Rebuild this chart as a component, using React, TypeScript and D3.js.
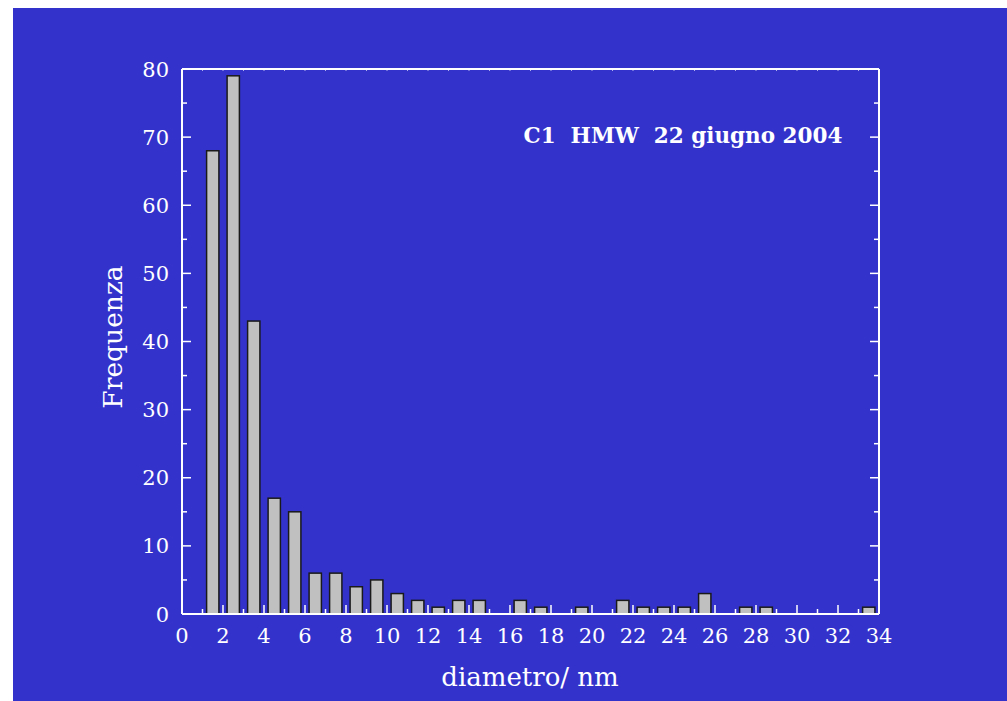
import React from "react";
import * as d3 from "d3";

const binCenters = [1.5, 2.5, 3.5, 4.5, 5.5, 6.5, 7.5, 8.5, 9.5, 10.5, 11.5, 12.5, 13.5, 14.5, 15.5, 16.5, 17.5, 18.5, 19.5, 20.5, 21.5, 22.5, 23.5, 24.5, 25.5, 26.5, 27.5, 28.5, 29.5, 30.5, 31.5, 32.5, 33.5];
const frequencies = [68, 79, 43, 17, 15, 6, 6, 4, 5, 3, 2, 1, 2, 2, 0, 2, 1, 0, 1, 0, 2, 1, 1, 1, 3, 0, 1, 1, 0, 0, 0, 0, 1];
const xTickValues = [0, 2, 4, 6, 8, 10, 12, 14, 16, 18, 20, 22, 24, 26, 28, 30, 32, 34];
const yTickValues = [0, 10, 20, 30, 40, 50, 60, 70, 80];
const titleText = "C1  HMW  22 giugno 2004";
const xLabel = "diametro/ nm";
const yLabel = "Frequenza";

export default function App() {
  const W = 1007, H = 701;
  const left = 182, right = 879, top = 69, bottom = 614;
  const x = d3.scaleLinear().domain([0, 34]).range([left, right]);
  const y = d3.scaleLinear().domain([0, 80]).range([bottom, top]);
  const barW = x(0.6) - x(0);
  const font = "'DejaVu Serif', serif";
  const minorX = d3.range(1, 34, 2);
  const minorY = d3.range(5, 80, 10);
  const allX = d3.range(1, 34, 1);
  const data = binCenters.map((c, i) => ({ c, v: frequencies[i] }));
  return (
    <svg width={W} height={H} style={{ position: "absolute", left: 0, top: 0 }} fontFamily={font}>
      <rect x={13} y={8} width={W - 13} height={H - 8} fill="#3333CC" />
      {/* bars */}
      {data.filter(d => d.v > 0).map((d, i) => (
        <rect key={i} x={x(d.c) - barW / 2} y={y(d.v)} width={barW} height={y(0) - y(d.v)}
          fill="#C0C0C0" stroke="#1a1a1a" strokeWidth={1.5} />
      ))}
      {/* frame */}
      <g stroke="#ffffff" fill="none">
        <line x1={left} x2={right} y1={bottom} y2={bottom} strokeWidth={2} />
        <line x1={left} x2={left} y1={top} y2={bottom} strokeWidth={2} />
        <line x1={right} x2={right} y1={top} y2={bottom} strokeWidth={2} />
        <line x1={left} x2={right} y1={top} y2={top} strokeWidth={2} />
        {xTickValues.map(t => <line key={"xm" + t} x1={x(t)} x2={x(t)} y1={bottom} y2={bottom - 9} strokeWidth={1.5} />)}
        {minorX.map(t => <line key={"xn" + t} x1={x(t)} x2={x(t)} y1={bottom} y2={bottom - 5} strokeWidth={1.5} />)}
        {allX.map(t => <line key={"xt" + t} x1={x(t)} x2={x(t)} y1={top} y2={top + 2} strokeWidth={1} strokeOpacity={0.6} />)}
        {yTickValues.map(t => <line key={"ym" + t} x1={left} x2={left + 9} y1={y(t)} y2={y(t)} strokeWidth={1.5} />)}
        {minorY.map(t => <line key={"yn" + t} x1={left} x2={left + 5} y1={y(t)} y2={y(t)} strokeWidth={1.5} />)}
        {yTickValues.map(t => <line key={"rm" + t} x1={right} x2={right - 9} y1={y(t)} y2={y(t)} strokeWidth={1.5} />)}
        {minorY.map(t => <line key={"rn" + t} x1={right} x2={right - 5} y1={y(t)} y2={y(t)} strokeWidth={1.5} />)}
      </g>
      {/* tick labels */}
      <g fill="#ffffff" fontSize={21}>
        {xTickValues.map(t => (
          <text key={"xl" + t} x={x(t)} y={643} textAnchor="middle">{t}</text>
        ))}
        {yTickValues.map(t => (
          <text key={"yl" + t} x={169} y={y(t) + 7.5} textAnchor="end">{t}</text>
        ))}
      </g>
      <text x={530} y={686} fill="#ffffff" fontSize={26} textAnchor="middle">{xLabel}</text>
      <text transform={`translate(122, 337) rotate(-90)`} fill="#ffffff" fontSize={26.5} textAnchor="middle">{yLabel}</text>
      <text x={683} y={143} fill="#ffffff" fontSize={21.5} fontWeight="bold" textAnchor="middle" style={{ whiteSpace: "pre" }}>{titleText}</text>
    </svg>
  );
}
